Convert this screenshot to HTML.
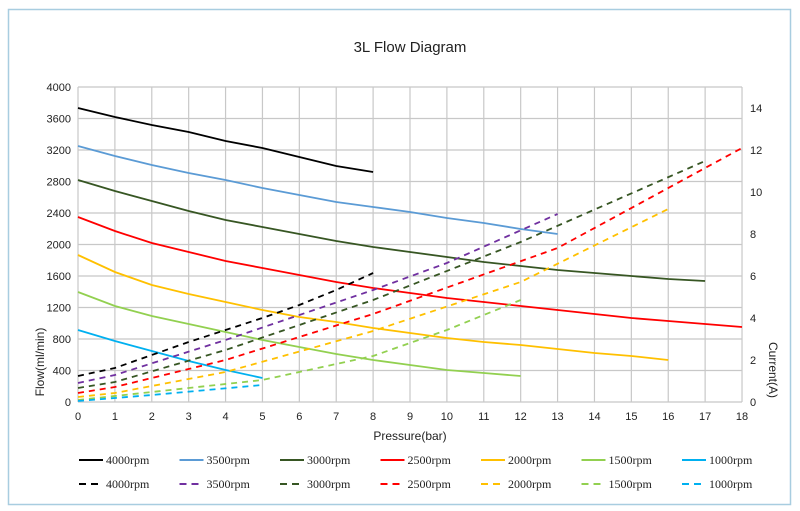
<!DOCTYPE html>
<html><head><meta charset="utf-8"><style>
html,body{margin:0;padding:0;background:#fff}
svg{display:block}
text{font-family:"Liberation Sans",sans-serif;fill:#222}
.t{font-size:11px}
.lg{font-family:"Liberation Serif",serif;font-size:12px}
</style></head><body>
<svg width="800" height="511" viewBox="0 0 800 511" xmlns="http://www.w3.org/2000/svg">
<rect x="8.5" y="9.5" width="782" height="495" fill="#fff" stroke="#a8cde0" stroke-width="1.5"/>
<text x="410" y="52" font-size="15" text-anchor="middle">3L Flow Diagram</text>
<g id="grid" stroke="#c8c8c8" stroke-width="1.2"></g>
<g id="lab"></g>
<g id="ser" fill="none" stroke-width="1.8"></g>
<text x="410" y="440" font-size="12" text-anchor="middle">Pressure(bar)</text>
<text transform="translate(44,362) rotate(-90)" font-size="12" text-anchor="middle">Flow(ml/min)</text>
<text transform="translate(769,370) rotate(90)" font-size="12" text-anchor="middle">Current(A)</text>
<g id="leg"></g>
</svg>
<script>
const NS="http://www.w3.org/2000/svg";
const X=b=>78+b*36.89, Y0=402, FY=v=>402-v/400*31.5;
function el(p,t,a,txt){const e=document.createElementNS(NS,t);for(const k in a)e.setAttribute(k,a[k]);if(txt!=null)e.textContent=txt;document.getElementById(p).appendChild(e);}
for(let i=0;i<=18;i++){el('grid','line',{x1:X(i),x2:X(i),y1:87,y2:402});el('lab','text',{x:X(i),y:420,'text-anchor':'middle',class:'t'},i);}
for(let v=0;v<=4000;v+=400){el('grid','line',{x1:78,x2:742,y1:FY(v),y2:FY(v)});el('lab','text',{x:71,y:FY(v)+4,'text-anchor':'end',class:'t'},v);}
for(let a=0;a<=14;a+=2){el('lab','text',{x:750,y:402-a*21+4,class:'t'},a);}
const C=['#000','#5b9bd5','#375623','#ff0000','#ffc000','#92d050','#00b0f0'];
const CD=['#000','#7030a0','#375623','#ff0000','#ffc000','#92d050','#00b0f0'];
const S=[
[[0,108],[1,117],[2,125],[3,132],[4,141],[5,148],[6,157],[7,166],[8,172]],
[[0,146],[1,156],[2,165],[3,173],[4,180],[5,188],[6,195],[7,202],[8,207],[9,212],[10,218],[11,223],[12,229],[13,234]],
[[0,180],[1,191],[2,201],[3,211],[4,220],[5,227],[6,234],[7,241],[8,247],[9,252],[10,257],[11,262],[12,266],[13,270],[14,273],[15,276],[16,279],[17,281]],
[[0,217],[1,231],[2,243],[3,252],[4,261],[5,268],[6,275],[7,282],[8,288],[9,293],[10,298],[11,302],[12,306],[13,310],[14,314],[15,318],[16,321],[17,324],[18,327]],
[[0,255],[1,272],[2,285],[3,294],[4,302],[5,310],[6,317],[7,322],[8,328],[9,333],[10,338],[11,342],[12,345],[13,349],[14,353],[15,356],[16,360]],
[[0,292],[1,306],[2,316],[3,324],[4,332],[5,340],[6,347],[7,354],[8,360],[9,365],[10,370],[11,373],[12,376]],
[[0,330],[1,341],[2,351],[3,361],[4,370],[5,378]]];
const D=[
[[0,376],[1,368],[2,355],[3,342],[4,330],[5,318],[6,305],[7,290],[8,273]],
[[0,383],[1,375],[4,340],[8,290],[10,263],[13,214]],
[[0,388],[1,382],[4,350],[8,300],[12,242],[17,161]],
[[0,393],[1,387],[4,360],[8,314],[13,248],[18,148]],
[[0,397],[1,393],[4,372],[8,331],[12,282],[16,209]],
[[0,400],[2,392],[5,380],[8,356],[10,330],[12,300]],
[[0,401],[2,395],[5,385]]];
const pts=a=>a.map(p=>X(p[0]).toFixed(1)+','+p[1]).join(' ');
S.forEach((s,i)=>el('ser','polyline',{points:pts(s),stroke:C[i]}));
D.forEach((s,i)=>el('ser','polyline',{points:pts(s),stroke:CD[i],'stroke-dasharray':'6,5'}));
const R=['4000rpm','3500rpm','3000rpm','2500rpm','2000rpm','1500rpm','1000rpm'];
R.forEach((r,i)=>{const x=79+i*100.5;
el('leg','line',{x1:x,x2:x+24,y1:460,y2:460,stroke:C[i],'stroke-width':2});
el('leg','text',{x:x+27,y:464,class:'lg'},r);
el('leg','line',{x1:x,x2:x+24,y1:484,y2:484,stroke:CD[i],'stroke-width':2,'stroke-dasharray':'7,5'});
el('leg','text',{x:x+27,y:488,class:'lg'},r);});
</script>
</body></html>
